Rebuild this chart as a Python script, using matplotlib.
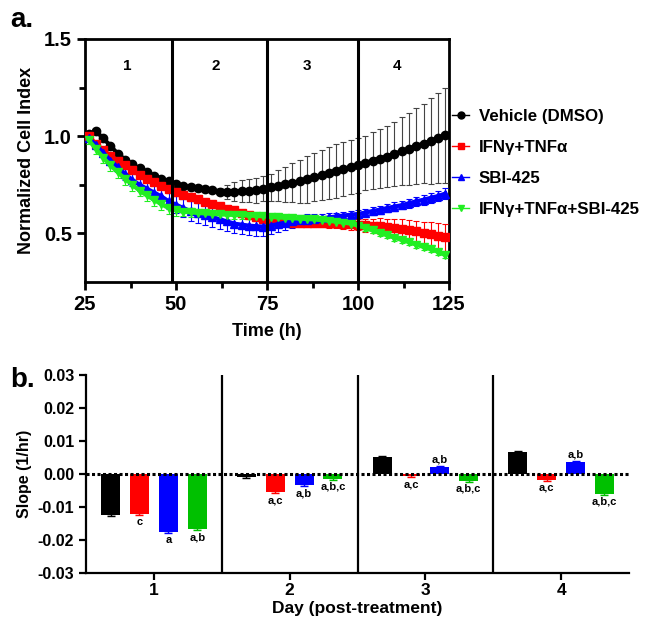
import matplotlib.pyplot as plt
import numpy as np
from matplotlib.lines import Line2D

plt.rcParams['font.family'] = ['Liberation Sans', 'DejaVu Sans']
plt.rcParams['font.weight'] = 'bold'

# ---- panel a data (time in h, normalized cell index) ----
time_h = np.arange(26, 125, 2)

vehicle = [1.010, 1.025, 0.990, 0.950, 0.910, 0.880, 0.855, 0.835, 0.815, 0.795,
           0.780, 0.768, 0.755, 0.745, 0.738, 0.735, 0.730, 0.722, 0.715, 0.712,
           0.715, 0.718, 0.720, 0.722, 0.730, 0.738, 0.745, 0.752, 0.760, 0.767,
           0.778, 0.790, 0.800, 0.812, 0.822, 0.832, 0.842, 0.850, 0.862, 0.875,
           0.885, 0.895, 0.910, 0.922, 0.935, 0.950, 0.962, 0.975, 0.990, 1.005]
vehicle_err = [0.010, 0.010, 0.010, 0.010, 0.010, 0.010, 0.010, 0.010, 0.010, 0.010,
               0.010, 0.010, 0.010, 0.010, 0.010, 0.010, 0.012, 0.015, 0.020, 0.035,
               0.050, 0.055, 0.060, 0.065, 0.065, 0.070, 0.080, 0.090, 0.100, 0.110,
               0.120, 0.125, 0.130, 0.135, 0.140, 0.140, 0.140, 0.140, 0.140, 0.145,
               0.150, 0.155, 0.165, 0.175, 0.185, 0.195, 0.205, 0.220, 0.230, 0.245]

ifn_tnf = [1.000, 0.960, 0.930, 0.900, 0.875, 0.850, 0.825, 0.800, 0.780, 0.762,
           0.745, 0.728, 0.715, 0.700, 0.688, 0.675, 0.662, 0.650, 0.640, 0.628,
           0.618, 0.605, 0.595, 0.585, 0.575, 0.568, 0.562, 0.558, 0.556, 0.555,
           0.555, 0.556, 0.556, 0.555, 0.553, 0.550, 0.548, 0.545, 0.542, 0.540,
           0.537, 0.533, 0.528, 0.523, 0.517, 0.510, 0.503, 0.495, 0.488, 0.480]
ifn_tnf_err = [0.010, 0.010, 0.010, 0.010, 0.010, 0.010, 0.010, 0.010, 0.010, 0.010,
               0.010, 0.010, 0.010, 0.010, 0.010, 0.010, 0.010, 0.010, 0.010, 0.010,
               0.010, 0.010, 0.012, 0.013, 0.015, 0.015, 0.018, 0.020, 0.022, 0.023,
               0.024, 0.025, 0.025, 0.026, 0.027, 0.028, 0.029, 0.030, 0.033, 0.036,
               0.040, 0.043, 0.046, 0.049, 0.052, 0.055, 0.058, 0.062, 0.066, 0.070]

sbi = [0.990, 0.955, 0.915, 0.875, 0.840, 0.805, 0.775, 0.750, 0.730, 0.710,
       0.690, 0.665, 0.648, 0.630, 0.615, 0.605, 0.595, 0.585, 0.572, 0.562,
       0.550, 0.545, 0.540, 0.537, 0.535, 0.540, 0.548, 0.555, 0.562, 0.567,
       0.570, 0.573, 0.577, 0.582, 0.587, 0.592, 0.596, 0.600, 0.607, 0.615,
       0.622, 0.630, 0.638, 0.645, 0.655, 0.665, 0.673, 0.683, 0.692, 0.705]
sbi_err = [0.015, 0.020, 0.020, 0.022, 0.025, 0.028, 0.030, 0.032, 0.035, 0.037,
           0.040, 0.042, 0.045, 0.048, 0.050, 0.050, 0.050, 0.050, 0.050, 0.050,
           0.050, 0.050, 0.050, 0.050, 0.048, 0.045, 0.040, 0.035, 0.032, 0.030,
           0.028, 0.026, 0.024, 0.022, 0.020, 0.020, 0.020, 0.020, 0.020, 0.020,
           0.020, 0.020, 0.022, 0.022, 0.024, 0.024, 0.025, 0.025, 0.026, 0.026]

combo = [0.980, 0.935, 0.890, 0.850, 0.815, 0.780, 0.750, 0.720, 0.695, 0.672,
         0.650, 0.630, 0.620, 0.612, 0.608, 0.605, 0.603, 0.600, 0.598, 0.596,
         0.595, 0.593, 0.592, 0.590, 0.588, 0.585, 0.582, 0.580, 0.578, 0.576,
         0.574, 0.572, 0.568, 0.565, 0.560, 0.556, 0.550, 0.540, 0.528, 0.515,
         0.502, 0.490, 0.478, 0.466, 0.455, 0.442, 0.430, 0.418, 0.405, 0.388]
combo_err = [0.020, 0.025, 0.030, 0.030, 0.030, 0.030, 0.030, 0.030, 0.030, 0.030,
             0.030, 0.030, 0.028, 0.025, 0.022, 0.020, 0.020, 0.020, 0.020, 0.020,
             0.020, 0.020, 0.020, 0.018, 0.018, 0.017, 0.016, 0.015, 0.015, 0.015,
             0.015, 0.015, 0.015, 0.015, 0.015, 0.015, 0.015, 0.015, 0.015, 0.015,
             0.015, 0.015, 0.015, 0.015, 0.015, 0.015, 0.015, 0.015, 0.015, 0.015]

series_names = ['Vehicle (DMSO)', 'IFNγ+TNFα', 'SBI-425', 'IFNγ+TNFα+SBI-425']
line_colors = ['black', '#ff0000', '#0000ff', '#22ee22']
bar_colors = ['black', '#ff0000', '#0000ff', '#00c000']
markers = ['o', 's', '^', 'v']

day_bounds = [49, 75, 100]
day_label_x = [36.5, 61, 86, 110.7]
day_labels = ['1', '2', '3', '4']

# ---- panel b data (slope per day) ----
days = ['1', '2', '3', '4']
slope_vehicle = [-0.0125, -0.0010, 0.0053, 0.0066]
slope_ifn = [-0.0122, -0.0055, -0.0007, -0.0018]
slope_sbi = [-0.0175, -0.0034, 0.0022, 0.0037]
slope_combo = [-0.0167, -0.0015, -0.0020, -0.0060]
slope_err = [0.0003, 0.0003, 0.0003, 0.0003]
sig_ifn = ['c', 'a,c', 'a,c', 'a,c']
sig_sbi = ['a', 'a,b', 'a,b', 'a,b']
sig_combo = ['a,b', 'a,b,c', 'a,b,c', 'a,b,c']

fig = plt.figure(figsize=(6.51, 6.19), dpi=100)

# ================= panel a =================
ax1 = fig.add_axes([85 / 651, 1 - 282 / 619, 364 / 651, 243 / 619])
all_series = [(vehicle, vehicle_err), (ifn_tnf, ifn_tnf_err), (sbi, sbi_err), (combo, combo_err)]
for (vals, errs), col, mk in zip(all_series, line_colors, markers):
    ecol = '#444444' if col == 'black' else col
    ax1.errorbar(time_h, vals, yerr=errs, fmt=mk + '-', color=col, ms=6, lw=3,
                 ecolor=ecol, elinewidth=0.8, capsize=2.5, capthick=0.8, zorder=3)

for xb in day_bounds:
    ax1.axvline(xb, color='black', lw=2.2, zorder=4)
for xl, lab in zip(day_label_x, day_labels):
    ax1.text(xl, 1.36, lab, ha='center', va='center', fontsize=11, fontweight='bold')

ax1.set_xlim(25, 125)
ax1.set_ylim(0.25, 1.5)
ax1.set_xticks([25, 50, 75, 100, 125])
ax1.set_xticks([37.5, 62.5, 87.5, 112.5], minor=True)
ax1.set_yticks([0.5, 1.0, 1.5])
ax1.set_yticks([0.75, 1.25], minor=True)
ax1.set_yticklabels(['0.5', '1.0', '1.5'])
ax1.tick_params(axis='both', which='major', labelsize=14.5, width=2, length=6)
ax1.tick_params(axis='both', which='minor', width=2, length=4)
for sp in ax1.spines.values():
    sp.set_linewidth(2)
ax1.set_xlabel('Time (h)', fontsize=13, fontweight='bold', labelpad=6)
ax1.set_ylabel('Normalized Cell Index', fontsize=13, fontweight='bold', labelpad=6)

handles = [Line2D([0], [0], color=c, marker=m, ms=5, lw=1) for c, m in zip(line_colors, markers)]
ax1.legend(handles, series_names, loc='center left', bbox_to_anchor=(1.0, 0.49),
           frameon=False, prop={'weight': 'bold', 'size': 12.2},
           handlelength=1.0, handletextpad=0.55, labelspacing=0.95,
           borderpad=0.1, borderaxespad=0.1)
fig.text(10 / 651, 1 - 20 / 619, 'a.', fontsize=20, fontweight='bold', va='center')

# ================= panel b =================
ax2 = fig.add_axes([86 / 651, 1 - 573 / 619, 543 / 651, 198 / 619])
x = np.arange(1, len(days) + 1)
step = 0.213
bw = 0.14
slopes = [slope_vehicle, slope_ifn, slope_sbi, slope_combo]
sigs = [None, sig_ifn, sig_sbi, sig_combo]
for i, (vals, col) in enumerate(zip(slopes, bar_colors)):
    pos = x + (i - 1.5) * step
    ax2.bar(pos, vals, width=bw, color=col, yerr=slope_err, capsize=3,
            error_kw={'elinewidth': 1, 'capthick': 1, 'ecolor': col}, zorder=2)
    if sigs[i] is not None:
        for p, v, s in zip(pos, vals, sigs[i]):
            if v < 0:
                ax2.text(p, v - 0.0009, s, ha='center', va='top', fontsize=8, fontweight='bold')
            else:
                ax2.text(p, v + 0.0007, s, ha='center', va='bottom', fontsize=8, fontweight='bold')

ax2.axhline(0, color='black', lw=2.2, ls=(0, (1, 0.8)), zorder=3)
for xb in [1.5, 2.5, 3.5]:
    ax2.axvline(xb, color='black', lw=1.6, zorder=1)

ax2.set_xlim(0.5, 4.5)
ax2.set_ylim(-0.03, 0.03)
ax2.set_xticks(x)
ax2.set_xticklabels(days)
ax2.set_yticks([-0.03, -0.02, -0.01, 0.0, 0.01, 0.02, 0.03])
ax2.set_yticklabels(['-0.03', '-0.02', '-0.01', '0.00', '0.01', '0.02', '0.03'])
ax2.tick_params(axis='y', labelsize=11.5, width=1.6, length=5)
ax2.tick_params(axis='x', labelsize=12.5, width=1.6, length=5, pad=2)
ax2.spines['top'].set_visible(False)
ax2.spines['right'].set_visible(False)
ax2.spines['left'].set_linewidth(1.6)
ax2.spines['bottom'].set_linewidth(1.6)
ax2.set_xlabel('Day (post-treatment)', fontsize=12.5, fontweight='bold', labelpad=2)
ax2.set_ylabel('Slope (1/hr)', fontsize=11.5, fontweight='bold', labelpad=4)
fig.text(10 / 651, 1 - 380 / 619, 'b.', fontsize=20, fontweight='bold', va='center')

fig.savefig('out.png', dpi=100)
